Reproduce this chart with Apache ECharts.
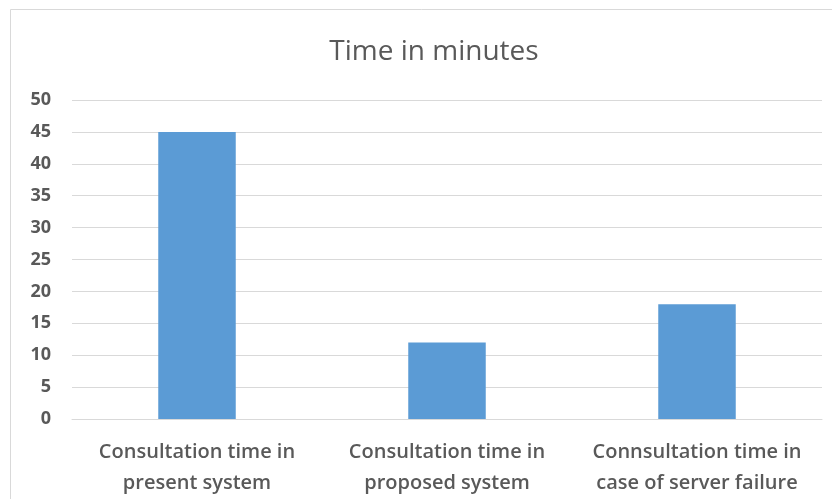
<!DOCTYPE html>
<html>
<head>
<meta charset="utf-8">
<script src="https://cdn.jsdelivr.net/npm/echarts@6/dist/echarts.min.js"></script>
<style>
  html, body { margin: 0; padding: 0; background: #fff; }
  #chart { width: 832px; height: 499px; }
</style>
</head>
<body>
<div id="chart"></div>
<script>
// chart data
const categories = [
  'Consultation time in\npresent system',
  'Consultation time in\nproposed system',
  'Connsultation time in\ncase of server failure'
]
const minutes = [45, 12, 18]
const yTicks = { min: 0, max: 50, interval: 5 }

const chart = echarts.init(document.getElementById('chart'))
const option = {
  animation: false,
  title: {
    text: 'Time in minutes',
    left: 429,
    top: 33,
    textAlign: 'center',
    textStyle: {
      fontFamily: 'Open Sans',
      fontWeight: 'normal',
      fontSize: 28,
      color: '#595959'
    }
  },
  // outer frame of the chart area
  graphic: [{
    type: 'rect',
    shape: { x: 10.5, y: 9.5, width: 840, height: 520 },
    style: { fill: 'none', stroke: '#d9d9d9', lineWidth: 1 },
    silent: true
  }],
  grid: { left: 72, right: 10, top: 100, bottom: 80 },
  xAxis: {
    type: 'category',
    data: categories,
    axisLine: { show: true, lineStyle: { color: '#d9d9d9' } },
    axisTick: { show: false },
    axisLabel: {
      margin: 18,
      interval: 0,
      fontFamily: 'Open Sans',
      fontWeight: 600,
      fontSize: 20,
      lineHeight: 31,
      color: '#595959'
    }
  },
  yAxis: {
    type: 'value',
    min: yTicks.min,
    max: yTicks.max,
    interval: yTicks.interval,
    axisLine: { show: false },
    axisTick: { show: false },
    splitLine: { lineStyle: { color: '#d9d9d9', width: 1 } },
    axisLabel: {
      margin: 21,
      fontFamily: 'Open Sans',
      fontWeight: 'bold',
      fontSize: 18,
      color: '#595959'
    }
  },
  series: [{
    type: 'bar',
    data: minutes,
    barWidth: '31%',
    itemStyle: { color: '#5b9bd5' }
  }]
}
chart.setOption(option)
</script>
</body>
</html>
